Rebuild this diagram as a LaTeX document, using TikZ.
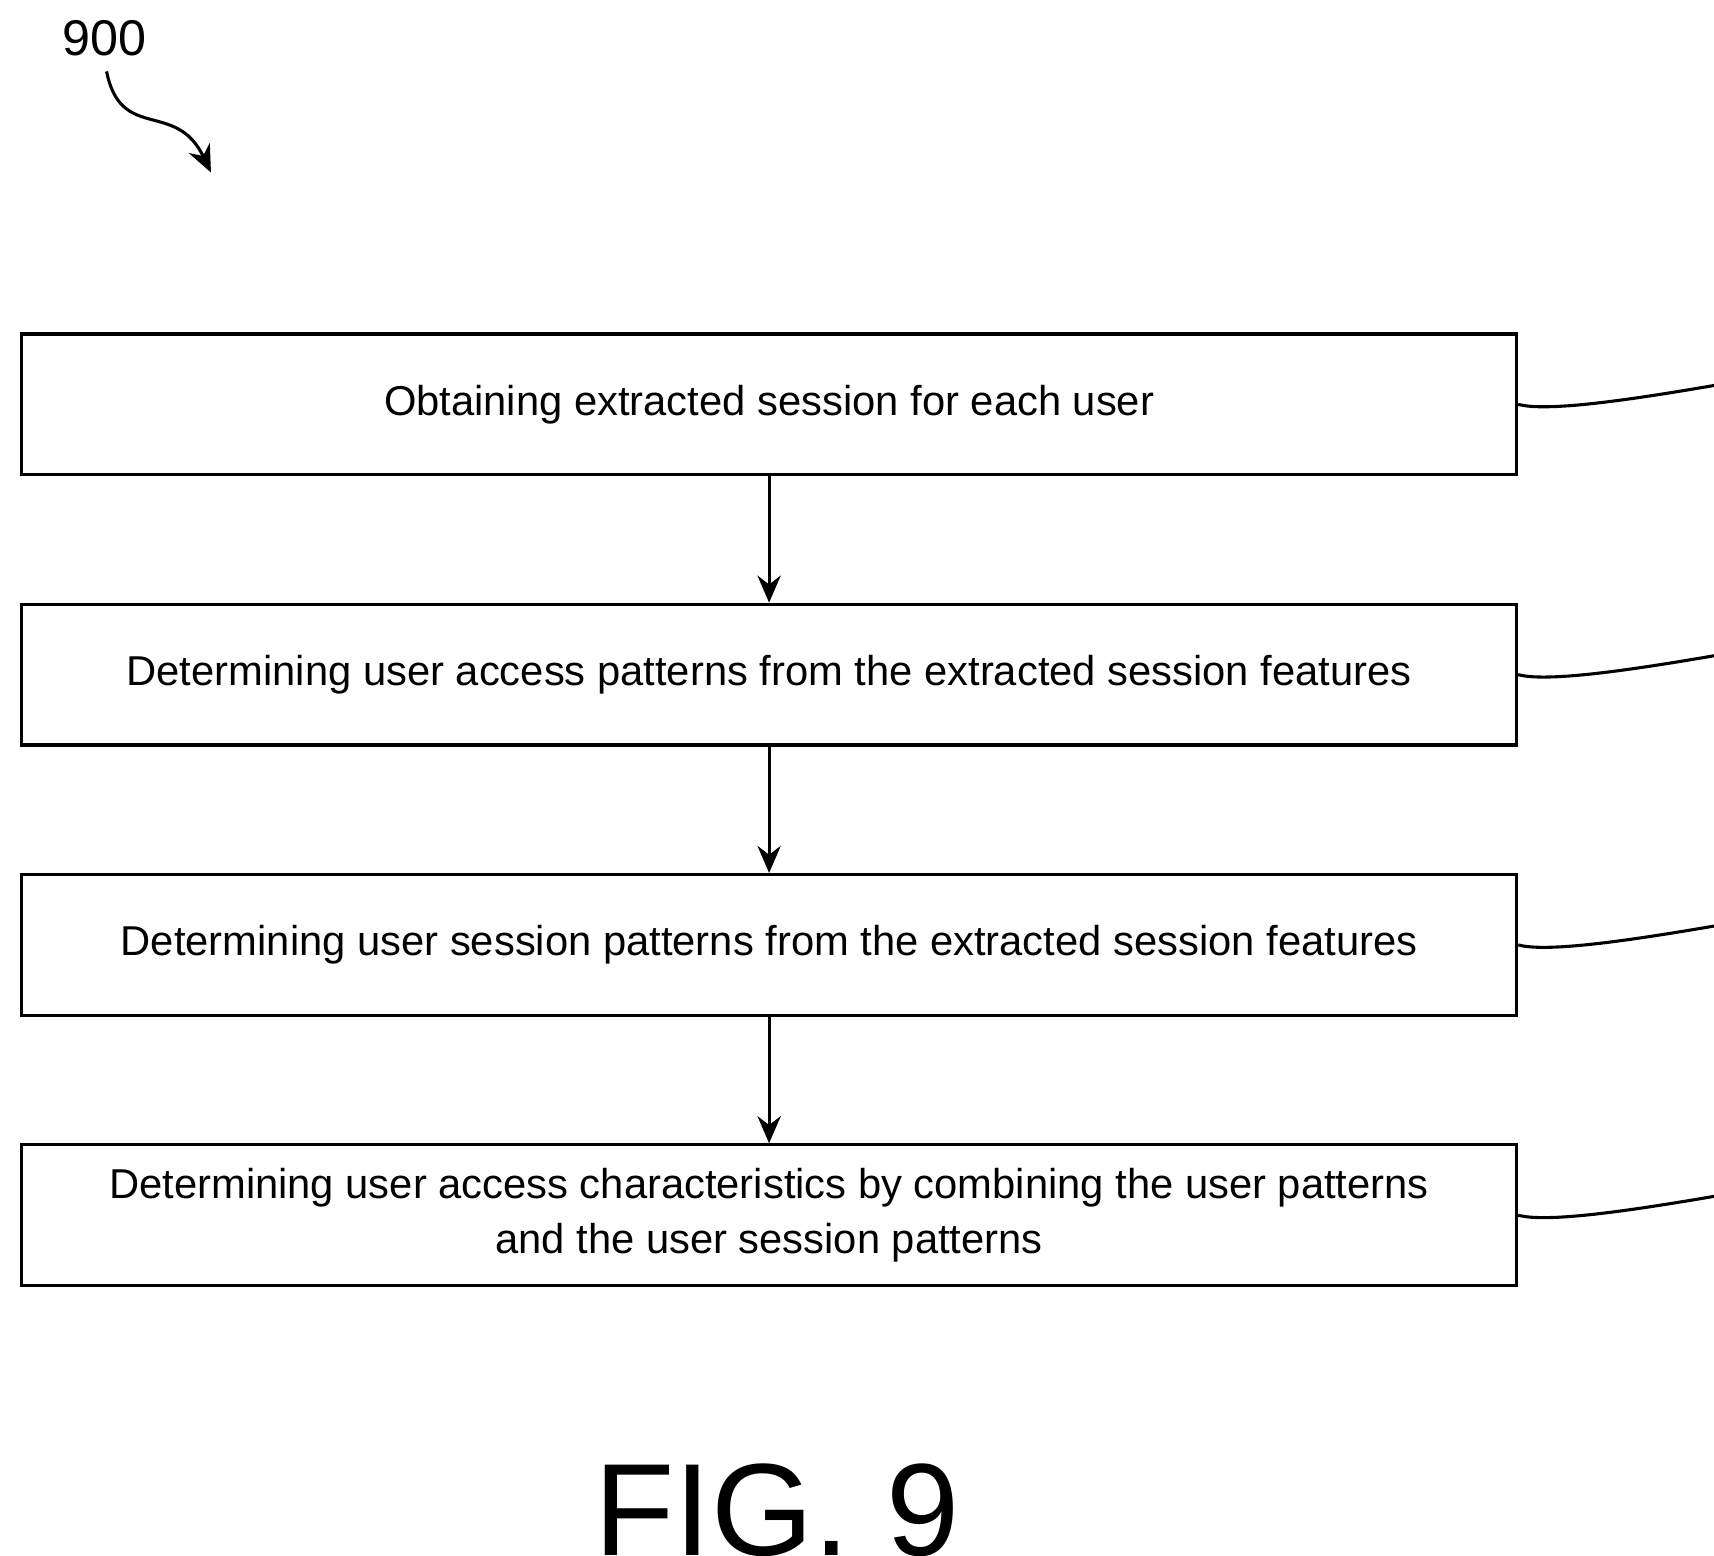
\documentclass[tikz,border=0pt]{standalone}
\usepackage{fontspec}
\setmainfont{Liberation Sans}
\usetikzlibrary{arrows.meta,positioning}
\tikzset{
  stepbox/.style={draw, thick, minimum width=13.6cm, minimum height=1.28cm, align=center, font=\fontsize{10.8}{14}\selectfont, inner sep=0pt},
  steplabel/.style={font=\fontsize{10.8}{14}\selectfont, anchor=west, inner sep=1pt},
  flow/.style={thick, -{Stealth[length=7pt,width=6pt]}},
}
\begin{document}
\begin{tikzpicture}[x=0.01cm, y=-0.01cm]
\useasboundingbox (0,0) rectangle (1560,1416);

\node(b1)[stepbox] at (700,368) {Obtaining extracted session for each user};
\node(b2)[stepbox] at (700,614) {Determining user access patterns from the extracted session features};
\node(b3)[stepbox] at (700,860) {Determining user session patterns from the extracted session features};
\node(b4)[stepbox] at (700,1106) {Determining user access characteristics by combining the user patterns\\and the user session patterns};

\draw[flow] (b1) -- (b2);
\draw[flow] (b2) -- (b3);
\draw[flow] (b3) -- (b4);

% step labels
\foreach \b/\s in {b1/S43,b2/S45,b3/S47,b4/S49} {
  \node(l\b)[steplabel] at ([xshift=96,yshift=-2]\b.east) {\s};
  \draw[thick] (\b.east) .. controls +(50,14) and +(-45,0) .. ([yshift=14]l\b.west);
}

% figure number
\node(ref)[font=\fontsize{13}{15}\selectfont] at (95,35) {900};
\coordinate (refend) at (192,157);
\draw[thick, -{Stealth[length=7pt,width=6pt]}] (97,65) .. controls (110,130) and (160,90) .. (refend);
\node(fig)[font=\fontsize{34}{40}\selectfont] at (707,1375) {FIG. 9};
\end{tikzpicture}
\end{document}
